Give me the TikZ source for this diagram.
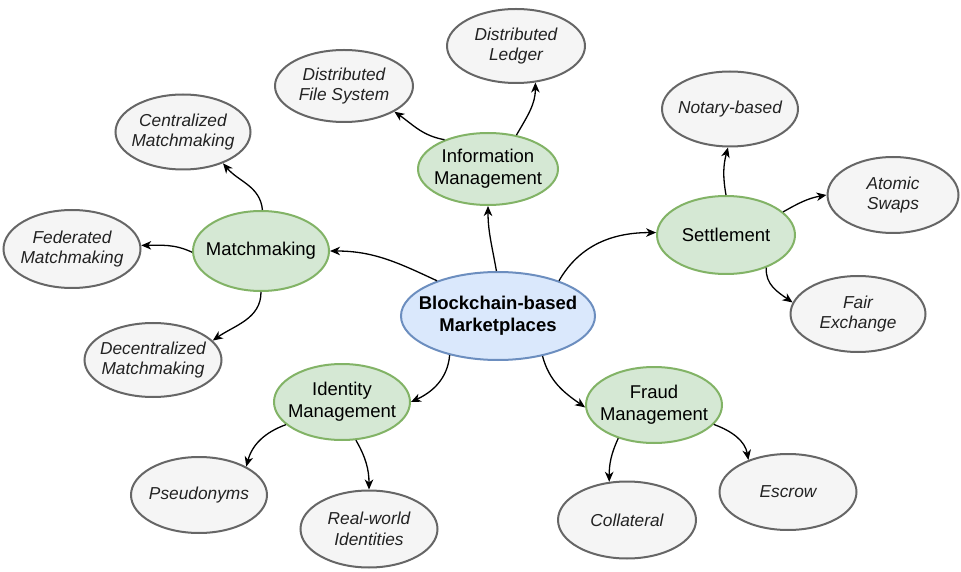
\documentclass[tikz,border=0pt]{standalone}
\usepackage{fontspec}
\setmainfont{Liberation Sans}
\usetikzlibrary{shapes.geometric,arrows.meta}
\definecolor{gfill}{HTML}{D5E8D4}
\definecolor{gline}{HTML}{82B366}
\definecolor{bfill}{HTML}{DAE8FC}
\definecolor{bline}{HTML}{6C8EBF}
\definecolor{yfill}{HTML}{F5F5F5}
\definecolor{yline}{HTML}{666666}
\definecolor{ytext}{HTML}{222222}
\begin{document}
\begin{tikzpicture}[x=1pt,y=1pt,
  oval/.style={ellipse, inner sep=0pt, line width=2pt, minimum width=136pt, minimum height=76pt},
  topic/.style={oval, draw=gline, fill=gfill},
  hub/.style={oval, draw=bline, fill=bfill},
  leaf/.style={oval, draw=yline, fill=yfill},
  tlbl/.style={align=center, inner sep=0pt, font=\fontsize{18.5}{21.7}\selectfont, text=black},
  hlbl/.style={align=center, inner sep=0pt, font=\fontsize{18.5}{21.7}\selectfont\bfseries, text=black},
  llbl/.style={align=center, inner sep=0pt, font=\fontsize{17.3}{20.6}\selectfont\itshape, text=ytext},
  link/.style={line width=1.3pt, -{Stealth[length=10pt,width=8.5pt,inset=3pt]}}
]
\useasboundingbox (0,0) rectangle (961,571);

% hub
\node[hub, minimum width=194pt, minimum height=88pt, label={[hlbl]center:{Blockchain-based\\Marketplaces}}] (c) at (498,255) {};

% topics
\node[topic, minimum width=140pt, minimum height=72pt, label={[tlbl]center:{Information\\Management}}] (im) at (488,402) {};
\node[topic, minimum height=80pt, label={[tlbl]center:{Matchmaking}}] (mm) at (261,320) {};
\node[topic, minimum width=138pt, minimum height=78pt, label={[tlbl]center:{Settlement}}] (st) at (726,336) {};
\node[topic, label={[tlbl]center:{Identity\\Management}}] (id) at (342,169) {};
\node[topic, label={[tlbl]center:{Fraud\\Management}}] (fr) at (654,166) {};

% leaves
\node[leaf, minimum width=138pt, minimum height=74pt, label={[llbl]center:{Distributed\\Ledger}}] (dl) at (516,525) {};
\node[leaf, minimum width=138pt, minimum height=72pt, label={[llbl]center:{Distributed\\File System}}] (dfs) at (344,485) {};
\node[leaf, minimum width=135pt, minimum height=75pt, label={[llbl]center:{Centralized\\Matchmaking}}] (cm) at (183,439) {};
\node[leaf, minimum width=137pt, minimum height=78pt, label={[llbl]center:{Federated\\Matchmaking}}] (fm) at (72,322) {};
\node[leaf, minimum width=137pt, minimum height=74pt, label={[llbl]center:{Decentralized\\Matchmaking}}] (dm) at (153,211) {};
\node[leaf, minimum height=75pt, label={[llbl]center:{Notary-based}}] (nb) at (730,462) {};
\node[leaf, minimum width=131pt, label={[llbl]center:{Atomic\\Swaps}}] (as) at (893,376) {};
\node[leaf, minimum width=135pt, label={[llbl]center:{Fair\\Exchange}}] (fe) at (858,257) {};
\node[leaf, minimum width=137pt, label={[llbl]center:{Escrow}}] (es) at (788,79) {};
\node[leaf, minimum width=138pt, minimum height=77pt, label={[llbl]center:{Collateral}}] (co) at (627,51) {};
\node[leaf, label={[llbl]center:{Pseudonyms}}] (ps) at (199,76) {};
\node[leaf, minimum width=137pt, minimum height=77pt, label={[llbl]center:{Real-world\\Identities}}] (rw) at (369,42) {};

% connectors
\draw[link] (c.92) to[out=100, in=-90] (im.270);
\draw[link] (im.146) to[out=170, in=-35] (dfs.-27);
\draw[link] (im.50) to[out=60, in=-90] (dl.-62);
\draw[link] (c.150) to[out=155, in=0] (mm.0);
\draw[link] (mm.88) to[out=95, in=-50] (cm.-38);
\draw[link] (mm.181) to[out=155, in=0] (fm.3);
\draw[link] (mm.270) to[out=-90, in=35] (dm.18);
\draw[link] (c.30) to[out=60, in=180] (st.178);
\draw[link] (st.90) to[out=100, in=-105] (nb.267);
\draw[link] (st.22) to[out=30, in=190] (as.180);
\draw[link] (st.-39) to[out=-95, in=145] (fe.170);
\draw[link] (c.219) to[out=-95, in=25] (id.0);
\draw[link] (id.202) to[out=200, in=75] (ps.31);
\draw[link] (id.-70) to[out=-60, in=90] (rw.90);
\draw[link] (c.-42) to[out=-75, in=145] (fr.182);
\draw[link] (fr.223) to[out=-115, in=90] (co.115);
\draw[link] (fr.-18) to[out=-20, in=100] (es.141);
\end{tikzpicture}
\end{document}
